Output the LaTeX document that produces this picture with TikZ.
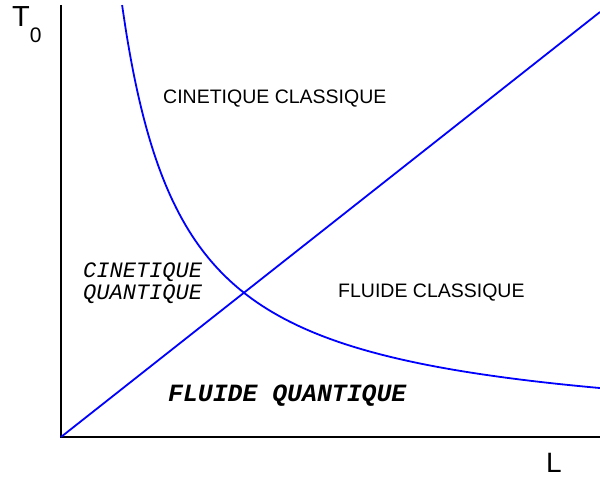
\documentclass[tikz,border=0pt]{standalone}
\usepackage{fontspec}
\setmainfont{Liberation Sans}
\newfontfamily\cour{Liberation Mono}
\begin{document}
\begin{tikzpicture}[x=1pt,y=1pt,
  axis/.style={line width=2pt,black},
  curve/.style={line width=1.8pt,blue},
  lab/.style={inner sep=0pt,anchor=base west},
  sans/.style={font=\fontsize{19.5}{22}\selectfont},
  mono/.style={font=\cour\fontsize{22}{22}\selectfont\itshape,align=left},
  monob/.style={font=\cour\fontsize{24.8}{24.8}\selectfont\bfseries\itshape}]
\useasboundingbox (0,0) rectangle (600,482);
\coordinate (O) at (61,45);
\coordinate (Ttop) at (61,477);
\coordinate (Lend) at (600,45);
\coordinate (Dend) at (600,470);
\draw[axis] (Ttop) -- (O) -- (Lend);
\draw[curve] (O) -- (Dend);
\draw[curve] plot[domain=61.1:539,samples=120,smooth] ({61+\x},{45+(263.9/\x)*100});
\node[lab,sans] (cc) at (163,378) {CINETIQUE CLASSIQUE};
\node[lab,sans] (fc) at (338,184) {FLUIDE CLASSIQUE};
\node[lab,mono] (cq1) at (83,204) {CINETIQUE};
\node[lab,mono] (cq2) at (83,182) {QUANTIQUE};
\node[lab,monob] (fq) at (168,80) {FLUIDE QUANTIQUE};
\node[lab,font=\fontsize{29}{29}\selectfont] (T) at (12,455) {T\raisebox{-16pt}{\fontsize{21}{21}\selectfont 0}};
\node[lab,font=\fontsize{28}{28}\selectfont] (L) at (546,9) {L};
\end{tikzpicture}
\end{document}
